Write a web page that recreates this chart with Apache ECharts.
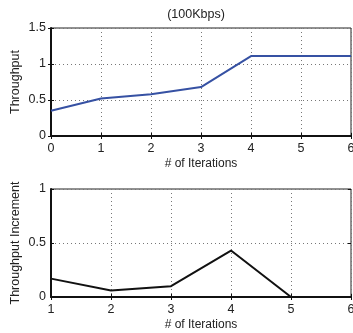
<!DOCTYPE html>
<html>
<head>
<meta charset="utf-8">
<script src="https://cdn.jsdelivr.net/npm/echarts@6/dist/echarts.min.js"></script>
<style>
  html, body { margin: 0; padding: 0; background: #fff; }
  #chart { width: 353px; height: 333px; }
</style>
</head>
<body>
<div id="chart"></div>
<script>
// Throughput per iteration at 100Kbps
const iterations = [0, 1, 2, 3, 4, 5, 6];
const throughput = [0.35, 0.52, 0.58, 0.68, 1.11, 1.11, 1.11];

// Throughput gained at each iteration
const incIterations = [1, 2, 3, 4, 5, 6];
const increment = [0.17, 0.06, 0.10, 0.43, 0, 0];

const FONT = '"Liberation Sans", Arial, sans-serif';
const TXT = '#222';

function pairs(xs, ys) { return xs.map((x, i) => [x, ys[i]]); }

const dotted = { show: true, lineStyle: { color: '#777', width: 1, type: [1, 3] } };

function xAxisFor(gridIndex, min, max) {
  return {
    type: 'value', gridIndex, min, max, interval: 1,
    name: '# of Iterations', nameLocation: 'middle', nameGap: 22, nameMoveOverlap: false,
    nameTextStyle: { fontFamily: FONT, fontSize: 12, color: TXT },
    axisLine: { show: true, onZero: false, lineStyle: { color: '#111', width: 2 } },
    axisTick: { show: true, inside: true, length: 3, lineStyle: { color: '#111' } },
    axisLabel: { fontFamily: FONT, fontSize: 12.5, color: TXT, margin: 6 },
    splitLine: dotted
  };
}
function topTicks(gridIndex, min, max) {
  return {
    type: 'value', gridIndex, min, max, interval: 1, position: 'top',
    axisLine: { show: false }, axisLabel: { show: false }, splitLine: { show: false },
    axisTick: { show: true, inside: true, length: 3, lineStyle: { color: '#111' } }
  };
}
function yAxisFor(gridIndex, max, name) {
  return {
    type: 'value', gridIndex, min: 0, max, interval: 0.5,
    name, nameLocation: 'middle', nameGap: 29, nameMoveOverlap: false,
    nameTextStyle: { fontFamily: FONT, fontSize: 12.5, color: TXT },
    axisLine: { show: true, lineStyle: { color: '#111', width: 2 } },
    axisTick: { show: true, inside: true, length: 3, lineStyle: { color: '#111' } },
    axisLabel: { fontFamily: FONT, fontSize: 12.5, color: TXT, margin: 5, formatter: v => String(v) },
    splitLine: dotted
  };
}
function rightTicks(gridIndex, max) {
  return {
    type: 'value', gridIndex, min: 0, max, interval: 0.5, position: 'right',
    axisLine: { show: false }, axisLabel: { show: false }, splitLine: { show: false },
    axisTick: { show: true, inside: true, length: 3, lineStyle: { color: '#111' } }
  };
}

const chart = echarts.init(document.getElementById('chart'), null, { renderer: 'canvas' });
chart.setOption({
  animation: false,
  backgroundColor: '#fff',
  title: {
    text: '(100Kbps)', left: 191, top: 3, textAlign: 'center',
    textStyle: { fontFamily: FONT, fontSize: 12.5, fontWeight: 'normal', color: TXT }
  },
  grid: [
    { left: 51, right: 2, top: 28, height: 108, outerBoundsMode: 'none', containLabel: false,
      show: true, borderColor: '#222', borderWidth: 1, backgroundColor: '#fff' },
    { left: 51, right: 2, top: 189, height: 108, outerBoundsMode: 'none', containLabel: false,
      show: true, borderColor: '#222', borderWidth: 1, backgroundColor: '#fff' }
  ],
  xAxis: [
    xAxisFor(0, 0, 6),
    xAxisFor(1, 1, 6),
    topTicks(0, 0, 6),
    topTicks(1, 1, 6)
  ],
  yAxis: [
    yAxisFor(0, 1.5, 'Throughput'),
    yAxisFor(1, 1, 'Throughput Increment'),
    rightTicks(0, 1.5),
    rightTicks(1, 1)
  ],
  series: [
    {
      type: 'line', xAxisIndex: 0, yAxisIndex: 0,
      data: pairs(iterations, throughput),
      showSymbol: false, symbol: 'none',
      lineStyle: { color: '#3651a3', width: 2 }
    },
    {
      type: 'line', xAxisIndex: 1, yAxisIndex: 1,
      data: pairs(incIterations, increment),
      showSymbol: false, symbol: 'none',
      lineStyle: { color: '#111', width: 2 }
    }
  ]
});
</script>
</body>
</html>
